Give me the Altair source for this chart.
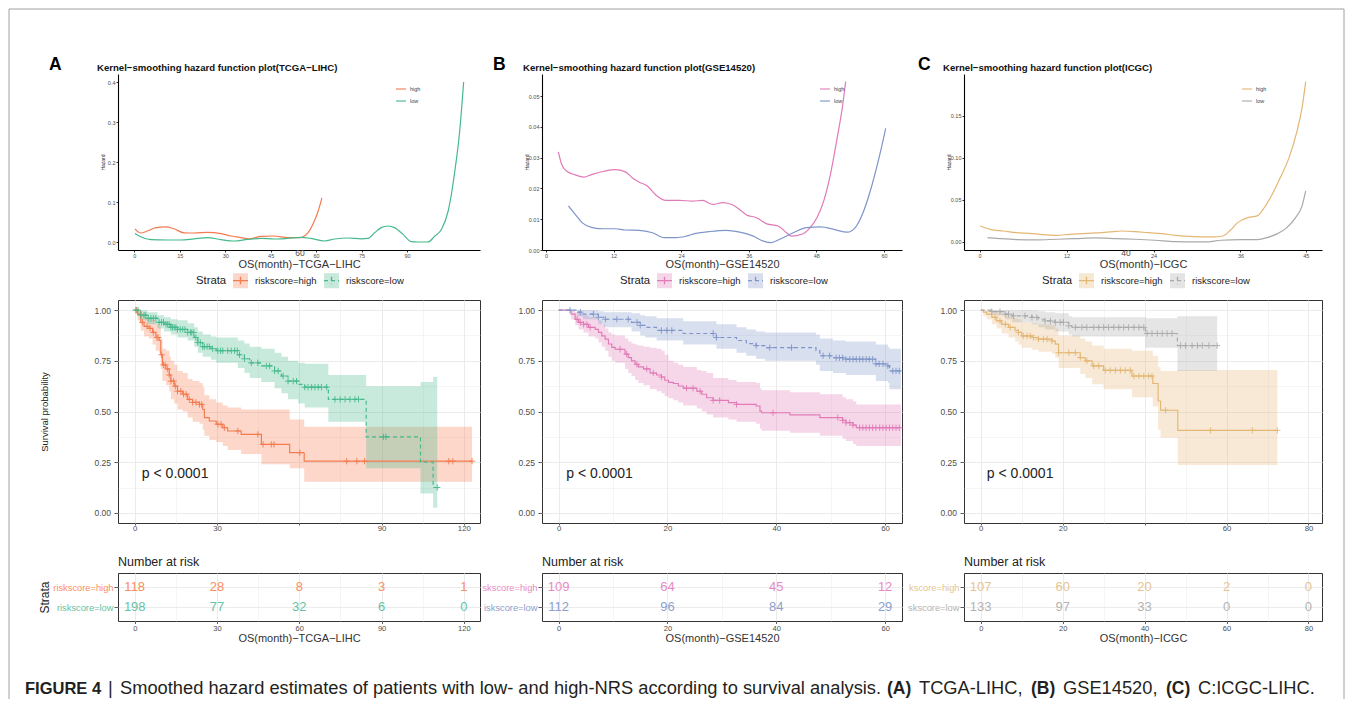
import altair as alt
import pandas as pd

FONT = "Liberation Sans"
M = "\u2212"

STRATA = ["riskscore=high", "riskscore=low"]
GROUPS = ["high", "low"]
LETTERS = ["A", "B", "C"]
HAZ_TITLES = [f"Kernel{M}smoothing hazard function plot(TCGA{M}LIHC)",
              f"Kernel{M}smoothing hazard function plot(GSE14520)",
              f"Kernel{M}smoothing hazard function plot(ICGC)"]
X_TITLES = [f"OS(month){M}TCGA{M}LIHC", f"OS(month){M}GSE14520", f"OS(month){M}ICGC"]

LINE_COLORS = [["#F47B4F", "#45B98C"], ["#E17AB6", "#7F95CA"], ["#E3B774", "#A9A9A9"]]
TEXT_COLORS = [["#FC8D62", "#66C2A5"], ["#E78AC3", "#8DA0CB"], ["#E5C494", "#B3B3B3"]]

# ---------------- hazard curves (kernel smoothed) ----------------
hazA_high_t = [0.2, 2.1, 4.3, 7.1, 10.4, 13.1, 16.4, 19.7, 24.2, 28.6, 31.9, 35.2, 37.9, 41.8, 46.2, 50.6, 55.0, 56.1, 57.3, 58.9, 60.5, 61.9]
hazA_high_h = [0.033, 0.0225, 0.0275, 0.036, 0.038, 0.033, 0.023, 0.0225, 0.024, 0.021, 0.015, 0.011, 0.008, 0.014, 0.015, 0.011, 0.011, 0.015, 0.023, 0.044, 0.073, 0.11]
hazA_low_t = [0.2, 2.1, 5.4, 10.9, 15.3, 19.7, 24.2, 28.6, 33.0, 37.4, 41.8, 46.2, 50.6, 55.0, 58.3, 62.8, 66.1, 70.5, 74.9, 77.1, 79.3, 81.5, 83.7, 85.9, 88.7, 91.4, 93.6, 96.9, 99.2, 101.4, 103.6, 105.8, 107.4, 108.7]
hazA_low_h = [0.0215, 0.013, 0.006, 0.005, 0.005, 0.008, 0.011, 0.006, 0.0025, 0.0065, 0.009, 0.0075, 0.009, 0.0115, 0.009, 0.0025, 0.0075, 0.01, 0.008, 0.009, 0.023, 0.036, 0.04, 0.036, 0.019, 0.001, 0.0, 0.0, 0.015, 0.032, 0.0775, 0.1775, 0.2775, 0.40]

hazB_high_t = [2.2, 2.8, 3.7, 5.2, 6.7, 8.2, 10.3, 12.3, 14.1, 15.3, 16.5, 18.0, 19.5, 21.3, 23.7, 26.0, 27.8, 29.6, 31.4, 33.2, 34.7, 35.6, 37.4, 39.2, 41.2, 42.7, 43.6, 45.4, 46.9, 48.1, 49.3, 50.5, 51.7, 52.6, 53.2]
hazB_high_h = [0.0319, 0.0278, 0.0256, 0.0244, 0.0237, 0.0246, 0.0256, 0.0261, 0.0254, 0.0235, 0.0221, 0.0208, 0.0179, 0.0161, 0.0161, 0.0159, 0.0161, 0.0148, 0.0154, 0.0146, 0.0127, 0.0114, 0.0105, 0.0085, 0.0078, 0.0056, 0.0045, 0.0051, 0.0073, 0.0105, 0.0159, 0.0246, 0.0365, 0.0462, 0.0547]
hazB_low_t = [4.0, 5.2, 6.4, 8.2, 10.3, 12.3, 14.1, 16.5, 18.9, 21.0, 23.1, 24.9, 26.6, 29.0, 32.0, 34.4, 36.8, 38.6, 40.0, 41.5, 43.9, 46.3, 48.7, 51.1, 53.5, 54.9, 56.4, 57.9, 59.4, 60.3]
hazB_low_h = [0.0143, 0.0116, 0.0089, 0.0073, 0.0069, 0.0069, 0.0065, 0.0064, 0.0056, 0.004, 0.004, 0.0045, 0.0054, 0.006, 0.0064, 0.0058, 0.0045, 0.0029, 0.0024, 0.0035, 0.0056, 0.0073, 0.0075, 0.0067, 0.0058, 0.0073, 0.0127, 0.0213, 0.0321, 0.0395]

hazC_high_t = [0.09, 1.46, 3.3, 5.1, 6.9, 8.7, 10.6, 12.4, 14.2, 16.0, 17.9, 19.7, 21.5, 23.3, 25.1, 27.0, 28.8, 30.6, 32.4, 33.6, 34.5, 35.6, 37.0, 38.3, 39.3, 40.4, 41.5, 42.7, 43.8, 44.5, 45.0]
hazC_high_h = [0.019, 0.015, 0.013, 0.011, 0.0103, 0.0087, 0.0079, 0.0091, 0.0099, 0.0107, 0.0119, 0.013, 0.0123, 0.011, 0.0099, 0.0079, 0.0067, 0.006, 0.006, 0.0071, 0.013, 0.023, 0.029, 0.031, 0.041, 0.057, 0.0766, 0.1004, 0.132, 0.16, 0.191]
hazC_low_t = [1.09, 2.8, 5.1, 7.8, 10.6, 13.3, 16.0, 18.8, 21.5, 24.2, 27.0, 29.7, 31.1, 33.3, 36.1, 38.3, 39.7, 41.1, 42.4, 43.6, 44.5, 45.0]
hazC_low_h = [0.0052, 0.004, 0.0028, 0.0024, 0.0032, 0.004, 0.0048, 0.004, 0.0032, 0.002, 0.0004, 0.0, 0.0, 0.002, 0.0028, 0.0028, 0.0052, 0.0099, 0.017, 0.029, 0.0429, 0.0607]

HAZ_XTICKS = [[0, 15, 30, 45, 60, 75, 90], [0, 12, 24, 36, 48, 60], [0, 12, 24, 36, 45]]
HAZ_YTICKS = [[0, 0.1, 0.2, 0.3, 0.4], [0, 0.01, 0.02, 0.03, 0.04, 0.05], [0, 0.05, 0.10, 0.15]]
HAZ_YFMT = [".1f", ".2f", ".2f"]
HAZ_STRAY_LABEL = [["60"], [], ["40"]]
HAZ_STRAY_AT = [[54.7], [], [20.2]]

# ---------------- Kaplan-Meier curves ----------------
kmA_high_t = [0, 1.0, 2.2, 3.4, 5.2, 6.5, 7.7, 8.9, 9.5, 10.1, 11.4, 12.6, 13.2, 14.4, 15.6, 17.5, 19.3, 21.1, 23.6, 24.8, 25.4, 27.2, 29.7, 32.1, 33.9, 38.8, 46.2, 56.5, 61.8]
kmA_high_s = [1.0, 0.98, 0.94, 0.92, 0.91, 0.89, 0.865, 0.85, 0.78, 0.73, 0.71, 0.68, 0.65, 0.625, 0.60, 0.585, 0.56, 0.545, 0.535, 0.51, 0.47, 0.453, 0.437, 0.42, 0.404, 0.387, 0.338, 0.297, 0.255]
kmA_high_lo = [1.0, 0.95, 0.90, 0.87, 0.86, 0.83, 0.80, 0.79, 0.71, 0.65, 0.63, 0.60, 0.56, 0.54, 0.51, 0.50, 0.47, 0.45, 0.44, 0.41, 0.38, 0.36, 0.35, 0.33, 0.31, 0.29, 0.24, 0.22, 0.153]
kmA_high_hi = [1.0, 1.0, 0.98, 0.965, 0.96, 0.95, 0.93, 0.92, 0.86, 0.81, 0.80, 0.77, 0.75, 0.73, 0.70, 0.69, 0.66, 0.65, 0.64, 0.62, 0.58, 0.56, 0.545, 0.53, 0.52, 0.51, 0.51, 0.46, 0.425]
kmA_high_end = 123.0
kmA_high_cens = [0.7, 2.0, 2.8, 4.5, 5.6, 6.8, 8.1, 8.5, 9.8, 10.5, 11.1, 12.0, 12.6, 13.2, 14.2, 14.8, 15.6, 16.8, 17.8, 18.8, 19.9, 21.1, 22.3, 23.6, 24.4, 30.3, 31.5, 32.7, 37.6, 44.9, 46.8, 49.8, 50.8, 60.2, 77.3, 81.0, 83.8, 114.5, 116.0, 123.0]

kmA_low_t = [0, 2.2, 4.6, 8.3, 10.7, 13.2, 15.6, 19.3, 21.7, 23.0, 24.8, 27.8, 29.7, 37.6, 40.0, 41.9, 46.2, 51.0, 53.5, 55.9, 59.6, 62.0, 70.6, 84.4, 104.2, 108.8]
kmA_low_s = [1.0, 0.975, 0.96, 0.94, 0.93, 0.915, 0.905, 0.89, 0.865, 0.84, 0.82, 0.81, 0.80, 0.78, 0.76, 0.74, 0.725, 0.70, 0.675, 0.65, 0.634, 0.62, 0.56, 0.375, 0.25, 0.125]
kmA_low_lo = [1.0, 0.95, 0.93, 0.91, 0.895, 0.88, 0.865, 0.85, 0.82, 0.79, 0.77, 0.755, 0.74, 0.715, 0.69, 0.665, 0.645, 0.615, 0.59, 0.56, 0.54, 0.52, 0.45, 0.22, 0.095, 0.025]
kmA_low_hi = [1.0, 1.0, 0.99, 0.975, 0.965, 0.955, 0.95, 0.935, 0.915, 0.895, 0.88, 0.87, 0.865, 0.85, 0.835, 0.82, 0.81, 0.79, 0.77, 0.75, 0.74, 0.735, 0.68, 0.625, 0.645, 0.67]
kmA_low_end = 110.3
kmA_low_cens = [0.4, 1.2, 2.2, 3.4, 4.0, 4.9, 5.9, 6.8, 7.7, 8.9, 9.8, 10.5, 11.4, 12.0, 12.6, 13.2, 13.8, 14.4, 15.0, 15.6, 16.6, 17.5, 18.3, 19.3, 20.3, 20.8, 21.5, 22.3, 23.0, 23.9, 24.8, 25.4, 26.4, 27.2, 28.4, 30.3, 31.3, 32.1, 33.9, 35.2, 36.4, 37.4, 38.2, 40.0, 42.5, 44.9, 48.0, 49.2, 51.0, 52.3, 54.1, 55.9, 57.8, 59.0, 62.0, 63.2, 64.5, 65.7, 66.9, 68.1, 70.0, 73.0, 74.9, 76.7, 78.5, 80.3, 81.6, 90.7, 91.6, 110.3]

kmB_high_t = [0, 2.3, 3.05, 3.67, 4.58, 5.5, 6.72, 7.33, 7.94, 8.55, 9.16, 9.77, 10.4, 12.2, 12.8, 13.4, 14.05, 14.66, 15.6, 16.8, 18.0, 18.9, 19.5, 20.2, 21.1, 22.0, 22.9, 25.4, 26.3, 27.2, 28.4, 31.2, 32.7, 36.3, 37.0, 37.3, 42.5, 48.0, 52.2, 52.8, 54.1, 54.7]
kmB_high_s = [1.0, 0.98, 0.955, 0.94, 0.93, 0.915, 0.905, 0.89, 0.873, 0.857, 0.833, 0.816, 0.807, 0.783, 0.766, 0.75, 0.733, 0.72, 0.71, 0.69, 0.68, 0.67, 0.654, 0.644, 0.638, 0.626, 0.615, 0.60, 0.585, 0.568, 0.555, 0.544, 0.535, 0.527, 0.502, 0.494, 0.483, 0.47, 0.456, 0.445, 0.433, 0.42]
kmB_high_lo = [1.0, 0.955, 0.925, 0.905, 0.89, 0.87, 0.86, 0.84, 0.82, 0.80, 0.77, 0.75, 0.74, 0.71, 0.69, 0.675, 0.655, 0.64, 0.63, 0.61, 0.60, 0.59, 0.575, 0.565, 0.555, 0.545, 0.53, 0.515, 0.50, 0.485, 0.47, 0.46, 0.45, 0.44, 0.415, 0.405, 0.395, 0.38, 0.365, 0.355, 0.34, 0.33]
kmB_high_hi = [1.0, 1.0, 0.99, 0.985, 0.975, 0.965, 0.96, 0.95, 0.93, 0.91, 0.89, 0.88, 0.875, 0.86, 0.845, 0.835, 0.83, 0.825, 0.82, 0.815, 0.81, 0.80, 0.78, 0.75, 0.74, 0.73, 0.72, 0.705, 0.70, 0.69, 0.665, 0.655, 0.645, 0.64, 0.615, 0.605, 0.595, 0.585, 0.57, 0.56, 0.55, 0.535]
kmB_high_end = 62.9
kmB_high_cens = [3.4, 4.0, 4.6, 5.2, 5.8, 11.3, 12.5, 14.4, 16.2, 17.4, 18.9, 23.5, 24.7, 26.0, 28.4, 29.6, 32.7, 39.4, 51.3, 52.2, 52.8, 53.5, 54.1, 55.3, 55.9, 56.5, 57.1, 57.7, 58.3, 59.0, 59.6, 60.2, 60.8, 61.4, 62.0, 62.6]

kmB_low_t = [0, 3.4, 4.5, 7.3, 8.3, 13.4, 15.0, 15.9, 18.0, 22.9, 29.0, 32.7, 34.5, 36.3, 37.9, 47.3, 48.0, 50.4, 52.8, 58.3, 60.5, 60.8]
kmB_low_s = [1.0, 0.99, 0.98, 0.965, 0.955, 0.94, 0.925, 0.915, 0.90, 0.885, 0.865, 0.85, 0.835, 0.825, 0.815, 0.80, 0.775, 0.765, 0.758, 0.735, 0.725, 0.70]
kmB_low_lo = [1.0, 0.97, 0.955, 0.93, 0.915, 0.895, 0.875, 0.865, 0.85, 0.83, 0.81, 0.79, 0.775, 0.76, 0.75, 0.73, 0.70, 0.69, 0.68, 0.65, 0.64, 0.61]
kmB_low_hi = [1.0, 1.0, 1.0, 0.995, 0.99, 0.985, 0.975, 0.97, 0.96, 0.945, 0.93, 0.915, 0.905, 0.895, 0.89, 0.88, 0.86, 0.85, 0.845, 0.83, 0.82, 0.81]
kmB_low_end = 62.9
kmB_low_cens = [2.1, 4.0, 6.4, 7.3, 8.6, 10.7, 12.8, 14.4, 15.0, 18.9, 19.9, 20.8, 28.4, 29.0, 36.3, 38.8, 42.8, 48.6, 49.8, 51.0, 51.6, 52.2, 52.8, 53.5, 54.1, 54.7, 55.3, 55.9, 56.5, 57.1, 57.7, 58.3, 58.9, 59.6, 60.5, 61.4, 62.0, 62.6]

kmC_high_t = [0, 0.65, 1.47, 2.7, 3.9, 5.1, 6.8, 8.4, 9.2, 10.0, 12.5, 14.1, 17.4, 18.2, 19.0, 24.3, 25.5, 27.2, 30.0, 36.9, 42.0, 43.3, 43.9, 48.1]
kmC_high_s = [1.0, 0.99, 0.98, 0.965, 0.947, 0.93, 0.915, 0.90, 0.89, 0.873, 0.865, 0.857, 0.848, 0.832, 0.79, 0.766, 0.75, 0.725, 0.703, 0.675, 0.638, 0.552, 0.506, 0.407]
kmC_high_lo = [1.0, 0.97, 0.955, 0.93, 0.91, 0.885, 0.865, 0.845, 0.83, 0.815, 0.805, 0.795, 0.785, 0.765, 0.715, 0.685, 0.665, 0.635, 0.61, 0.57, 0.525, 0.41, 0.37, 0.236]
kmC_high_hi = [1.0, 1.0, 1.0, 1.0, 0.99, 0.98, 0.97, 0.96, 0.955, 0.94, 0.935, 0.93, 0.925, 0.91, 0.875, 0.86, 0.845, 0.825, 0.81, 0.80, 0.775, 0.72, 0.70, 0.705]
kmC_high_end = 72.4
kmC_high_cens = [3.5, 4.7, 6.0, 7.2, 9.2, 10.4, 11.3, 12.1, 12.9, 14.1, 15.3, 16.2, 17.4, 19.0, 21.5, 23.1, 24.3, 25.9, 27.6, 28.8, 30.4, 31.6, 32.9, 34.1, 35.3, 36.5, 37.4, 38.6, 39.8, 41.0, 41.8, 45.1, 56.1, 66.3, 72.4]

kmC_low_t = [0, 2.7, 6.0, 7.6, 12.5, 14.1, 15.7, 18.2, 21.5, 22.3, 40.2, 48.0]
kmC_low_s = [1.0, 0.993, 0.98, 0.972, 0.964, 0.955, 0.947, 0.94, 0.923, 0.915, 0.885, 0.825]
kmC_low_lo = [1.0, 0.975, 0.955, 0.94, 0.93, 0.915, 0.905, 0.895, 0.88, 0.87, 0.815, 0.70]
kmC_low_hi = [1.0, 1.0, 1.0, 1.0, 1.0, 0.995, 0.99, 0.985, 0.97, 0.965, 0.96, 0.97]
kmC_low_end = 57.7
kmC_low_cens = [2.7, 4.7, 6.0, 6.8, 8.0, 10.8, 12.5, 13.7, 15.7, 17.0, 18.2, 19.4, 20.2, 21.5, 23.1, 24.7, 25.9, 27.6, 28.8, 30.0, 31.2, 32.5, 33.7, 34.9, 36.1, 37.4, 38.6, 39.8, 40.6, 41.8, 43.1, 44.3, 45.5, 46.7, 48.8, 50.0, 51.6, 52.9, 54.1, 55.7, 57.7]

PVAL_TEXT = "p < 0.0001"
PVAL_AT = [2.6, 1.4, 1.5]
PVAL_Y = 0.19

# ---------------- number at risk ----------------
riskA_times = [0, 30, 60, 90, 120]
riskA_high = [118, 28, 8, 3, 1]
riskA_low = [198, 77, 32, 6, 0]
riskB_times = [0, 20, 40, 60]
riskB_high = [109, 64, 45, 12]
riskB_low = [112, 96, 84, 29]
riskC_times = [0, 20, 40, 60, 80]
riskC_high = [107, 60, 20, 2, 0]
riskC_low = [133, 97, 33, 0, 0]

# visible (cropped) strata labels of the risk tables
RISK_LABELS = [["riskscore=high", "riskscore=low"], ["skscore=high", "iskscore=low"], ["kscore=high", "skscore=low"]]

CAPTION_BOLD = ["FIGURE 4", "(A)", "(B)", "(C)"]
CAPTION_REG = ["|", "Smoothed hazard estimates of patients with low- and high-NRS according to survival analysis.",
               "TCGA-LIHC,", "GSE14520,", "C:ICGC-LIHC."]

# ---------------- layout (pixels) ----------------
WIDTHS = [362, 360, 358]
H_HAZ, H_KM, H_TAB = 176, 223, 48
HAZ_XDOM = [[-5.4, 114.1], [-0.7, 63.2], [-2.16, 47.25]]
HAZ_YDOM = [[-0.02, 0.42], [0.0, 0.0572], [-0.0096, 0.2]]
KM_XDOM = [[-6.1, 125.9], [-3.05, 63.1], [-4.08, 83.3]]
KM_XVALS = [list(range(0, 121, 15)), list(range(0, 61, 10)), list(range(0, 81, 10))]
KM_MAJOR = [30, 20, 20]
KM_HIDE = [60, None, 40]
LETTER_X = [-69, -49, -46]
TITLE_X = [-21, -19, -21]


def one_row():
    return alt.Data(values=[{"k": 1}])


def label_text(txt, x, y, size, weight="normal", color="#111111", align="left"):
    return alt.Chart(one_row()).mark_text(
        text=txt, align=align, baseline="middle", fontSize=size, fontWeight=weight,
        color=color, font=FONT
    ).encode(x=alt.value(x), y=alt.value(y))


def step_value(ts, ss, c):
    idx = 0
    for j, t in enumerate(ts):
        if t <= c:
            idx = j
    return ss[idx]


HAZ = [
    (hazA_high_t, hazA_high_h, hazA_low_t, hazA_low_h),
    (hazB_high_t, hazB_high_h, hazB_low_t, hazB_low_h),
    (hazC_high_t, hazC_high_h, hazC_low_t, hazC_low_h),
]
KM = [
    [(kmA_high_t, kmA_high_s, kmA_high_lo, kmA_high_hi, kmA_high_end, kmA_high_cens),
     (kmA_low_t, kmA_low_s, kmA_low_lo, kmA_low_hi, kmA_low_end, kmA_low_cens)],
    [(kmB_high_t, kmB_high_s, kmB_high_lo, kmB_high_hi, kmB_high_end, kmB_high_cens),
     (kmB_low_t, kmB_low_s, kmB_low_lo, kmB_low_hi, kmB_low_end, kmB_low_cens)],
    [(kmC_high_t, kmC_high_s, kmC_high_lo, kmC_high_hi, kmC_high_end, kmC_high_cens),
     (kmC_low_t, kmC_low_s, kmC_low_lo, kmC_low_hi, kmC_low_end, kmC_low_cens)],
]
RISK = [
    (riskA_times, riskA_high, riskA_low),
    (riskB_times, riskB_high, riskB_low),
    (riskC_times, riskC_high, riskC_low),
]


def hazard_panel(i):
    ht, hh, lt, lh = HAZ[i]
    df = pd.DataFrame({
        "t": list(ht) + list(lt),
        "h": list(hh) + list(lh),
        "group": ["high"] * len(ht) + ["low"] * len(lt),
    })
    xs = alt.Scale(domain=HAZ_XDOM[i], nice=False, zero=False)
    ys = alt.Scale(domain=HAZ_YDOM[i], nice=False, zero=False)
    xaxis = alt.Axis(values=HAZ_XTICKS[i], title=X_TITLES[i], grid=False,
                     domainColor="#000000", domainWidth=1.1, tickColor="#000000", tickSize=2,
                     tickWidth=0.8, labelPadding=1, labelFontSize=5.5, labelColor="#4D4D4D",
                     labelFlush=False, labelOverlap=False, titleFontSize=11,
                     titleFontWeight="normal", titleColor="#333333", titleY=14.5,
                     titleBaseline="middle")
    yaxis = alt.Axis(values=HAZ_YTICKS[i], format=HAZ_YFMT[i], title="Hazard", grid=False,
                     domainColor="#000000", domainWidth=1.1, tickColor="#000000", tickSize=2,
                     tickWidth=0.8, labelPadding=1, labelFontSize=5.5, labelColor="#4D4D4D",
                     labelFlush=False, labelOverlap=False, titleFontSize=5,
                     titleFontWeight="normal", titleColor="#333333", titleX=-16,
                     titleBaseline="middle")
    lines = alt.Chart(df).mark_line(interpolate="monotone", strokeWidth=1.2).encode(
        x=alt.X("t:Q", scale=xs, axis=xaxis),
        y=alt.Y("h:Q", scale=ys, axis=yaxis),
        stroke=alt.Stroke("group:N", scale=alt.Scale(domain=GROUPS, range=LINE_COLORS[i]),
                          legend=alt.Legend(title=None, orient="none", legendX=277, legendY=9,
                                            symbolType="stroke", symbolSize=100,
                                            symbolStrokeWidth=1.1, labelFontSize=5.5,
                                            labelColor="#444444", labelOffset=3, rowPadding=2,
                                            padding=0)),
    )
    layers = [lines,
              label_text(HAZ_TITLES[i], TITLE_X[i], -6.5, 9.6, weight="bold", color="#111111"),
              label_text(LETTERS[i], LETTER_X[i], -9, 17.5, weight="bold", color="#000000")]
    if HAZ_STRAY_LABEL[i]:
        sdf = pd.DataFrame({"t": HAZ_STRAY_AT[i], "lab": HAZ_STRAY_LABEL[i]})
        layers.append(alt.Chart(sdf).mark_text(fontSize=8.5, color="#4D4D4D", baseline="middle").encode(
            x=alt.X("t:Q", scale=xs, axis=xaxis), y=alt.value(179), text="lab:N"))
    return alt.layer(*layers).properties(width=WIDTHS[i], height=H_HAZ)


def strata_legend(kind):
    common = dict(title="Strata", orient="none", legendX=78, legendY=-28, direction="horizontal",
                  titleOrient="left", titleFontSize=11.3, titleFontWeight="normal", titlePadding=5,
                  titleAnchor="middle", titleBaseline="middle", labelFontSize=9.5, labelOffset=6,
                  columnPadding=4, symbolSize=225, symbolStrokeWidth=1.3, padding=0)
    if kind == "band":
        return alt.Legend(symbolType="square", symbolOpacity=0.3, symbolStrokeColor="transparent",
                          titleColor="#222222", labelColor="#222222", **common)
    return alt.Legend(symbolType="M-1,0H1M0,-0.5V0.5", symbolFillColor="transparent",
                      symbolOpacity=1, titleColor="transparent", labelColor="transparent", **common)


def km_panel(i):
    rows = []
    crow = []
    for g, (t, s, lo, hi, end, cens) in enumerate(KM[i]):
        lab = STRATA[g]
        for j in range(len(t)):
            rows.append({"t": t[j], "s": s[j], "lo": lo[j], "hi": hi[j], "strata": lab, "band": lab})
        rows.append({"t": end, "s": s[-1], "lo": lo[-1], "hi": hi[-1], "strata": lab, "band": lab})
        for c in cens:
            crow.append({"t": c, "s": step_value(t, s, c), "strata": lab})
    df = pd.DataFrame(rows)
    cdf = pd.DataFrame(crow)
    major = KM_MAJOR[i]
    hide = KM_HIDE[i]
    lab_expr = f"datum.value % {major} == 0" + (f" && datum.value != {hide}" if hide is not None else "")
    xs = alt.Scale(domain=KM_XDOM[i], nice=False, zero=False)
    ys = alt.Scale(domain=[-0.05, 1.05], nice=False, zero=False)
    xaxis = alt.Axis(values=KM_XVALS[i], title=None, labelExpr=f"{lab_expr} ? datum.label : ''",
                     grid=True, gridColor="#EBEBEB",
                     gridWidth={"condition": {"test": f"datum.value % {major} == 0", "value": 1.0}, "value": 0.5},
                     tickOpacity={"condition": {"test": f"datum.value % {major} != 0", "value": 0}, "value": 1},
                     tickSize=2, tickColor="#333333", tickWidth=0.8, labelPadding=-0.5,
                     labelFontSize=7.8, labelColor="#4D4D4D", domain=False, labelFlush=False,
                     labelOverlap=False)
    yaxis = alt.Axis(values=[k / 8 for k in range(9)],
                     labelExpr="(datum.value * 8) % 2 == 0 ? format(datum.value, '.2f') : ''",
                     title="Survival probability" if i == 0 else None,
                     titleX=-74, titleBaseline="middle", titleFontSize=9.5, titleFontWeight="normal",
                     titleColor="#222222",
                     grid=True, gridColor="#EBEBEB",
                     gridWidth={"condition": {"test": "(datum.value * 8) % 2 == 0", "value": 1.0}, "value": 0.5},
                     tickOpacity={"condition": {"test": "(datum.value * 8) % 2 != 0", "value": 0}, "value": 1},
                     tickSize=4, tickColor="#333333", tickWidth=0.8, labelPadding=3.5,
                     labelFontSize=8.5, labelColor="#4D4D4D", domain=False, labelFlush=False,
                     labelOverlap=False)
    # fill scale keeps a data-driven domain so that its legend stays separate from the line legend
    band = alt.Chart(df).mark_area(interpolate="step-after", opacity=0.3).encode(
        x=alt.X("t:Q", scale=xs, axis=xaxis),
        y=alt.Y("lo:Q", scale=ys, axis=yaxis),
        y2="hi:Q",
        fill=alt.Fill("band:N", scale=alt.Scale(range=LINE_COLORS[i]), legend=strata_legend("band")),
    )
    line_leg = strata_legend("line")
    line = alt.Chart(df).mark_line(interpolate="step-after", strokeWidth=1.15).encode(
        x=alt.X("t:Q", scale=xs, axis=xaxis),
        y=alt.Y("s:Q", scale=ys, axis=yaxis),
        stroke=alt.Stroke("strata:N", scale=alt.Scale(domain=STRATA, range=LINE_COLORS[i]), legend=line_leg),
        strokeDash=alt.StrokeDash("strata:N", scale=alt.Scale(domain=STRATA, range=[[1, 0], [4, 3]]),
                                  legend=line_leg),
    )
    pts = alt.Chart(cdf).mark_point(shape="M-1,0H1M0,-1V1", size=40, filled=False, strokeWidth=0.9,
                                    opacity=1).encode(
        x=alt.X("t:Q", scale=xs, axis=xaxis),
        y=alt.Y("s:Q", scale=ys, axis=yaxis),
        stroke=alt.Stroke("strata:N", scale=alt.Scale(domain=STRATA, range=LINE_COLORS[i]), legend=None),
    )
    pdf = pd.DataFrame({"t": [PVAL_AT[i]], "s": [PVAL_Y], "lab": [PVAL_TEXT]})
    ptxt = alt.Chart(pdf).mark_text(align="left", baseline="middle", fontSize=14, color="#222222").encode(
        x=alt.X("t:Q", scale=xs, axis=xaxis), y=alt.Y("s:Q", scale=ys, axis=yaxis), text="lab:N")
    return alt.layer(band, line, pts, ptxt).properties(
        width=WIDTHS[i], height=H_KM, view=alt.ViewBackground(stroke="#333333", strokeWidth=1))


def table_panel(i):
    times, nh, nl = RISK[i]
    df = pd.DataFrame({
        "t": list(times) + list(times),
        "strata": [STRATA[0]] * len(times) + [STRATA[1]] * len(times),
        "n": list(nh) + list(nl),
    })
    major = KM_MAJOR[i]
    xs = alt.Scale(domain=KM_XDOM[i], nice=False, zero=False)
    xaxis = alt.Axis(values=KM_XVALS[i], title=X_TITLES[i],
                     labelExpr=f"datum.value % {major} == 0 ? datum.label : ''",
                     grid=True, gridColor="#EBEBEB",
                     gridWidth={"condition": {"test": f"datum.value % {major} == 0", "value": 1.0}, "value": 0.5},
                     tickOpacity={"condition": {"test": f"datum.value % {major} != 0", "value": 0}, "value": 1},
                     tickSize=2.5, tickColor="#333333", tickWidth=0.8, labelPadding=0.5,
                     labelFontSize=7.5, labelColor="#4D4D4D", domain=False, labelFlush=False,
                     labelOverlap=False, titleFontSize=11, titleFontWeight="normal",
                     titleColor="#333333", titleY=17, titleBaseline="middle")
    hl, ll = RISK_LABELS[i]
    yaxis = alt.Axis(title="Strata" if i == 0 else None, titleX=-74, titleBaseline="middle",
                     titleFontSize=12, titleFontWeight="normal", titleColor="#222222",
                     labelExpr=f"datum.value == '{STRATA[0]}' ? '{hl}' : '{ll}'",
                     labelColor={"condition": {"test": f"datum.value == '{STRATA[0]}'",
                                               "value": TEXT_COLORS[i][0]}, "value": TEXT_COLORS[i][1]},
                     labelFontSize=9.3, labelPadding=1, tickSize=4, tickColor="#333333", tickWidth=0.8,
                     grid=True, gridColor="#EBEBEB", gridWidth=1, domain=False)
    txt = alt.Chart(df).mark_text(fontSize=13, baseline="middle").encode(
        x=alt.X("t:Q", scale=xs, axis=xaxis),
        y=alt.Y("strata:N", scale=alt.Scale(type="point", domain=STRATA, padding=0.7), axis=yaxis),
        color=alt.Color("strata:N", scale=alt.Scale(domain=STRATA, range=TEXT_COLORS[i]), legend=None),
        text="n:Q",
    )
    layers = [txt, label_text("Number at risk", 0, -11, 12.5, color="#222222")]
    if i == 0:
        # outer figure frame and caption (pixel offsets relative to this panel)
        frame = alt.Chart(one_row())
        layers += [
            frame.mark_rule(color="#A0A0A0", strokeWidth=1).encode(
                x=alt.value(-109), x2=alt.value(1226), y=alt.value(-564)),
            frame.mark_rule(color="#A0A0A0", strokeWidth=1).encode(
                x=alt.value(-109), y=alt.value(-564), y2=alt.value(126)),
            frame.mark_rule(color="#A0A0A0", strokeWidth=1).encode(
                x=alt.value(1226), y=alt.value(-564), y2=alt.value(126)),
        ]
        cy = 116
        reg = 18.3
        bold = 17.5
        layers += [
            label_text(CAPTION_BOLD[0], -93, cy, 16.5, weight="bold", color="#231F20"),
            label_text(CAPTION_REG[0], -10, cy, reg, color="#231F20"),
            label_text(CAPTION_REG[1], 2, cy, reg, color="#231F20"),
            label_text(CAPTION_BOLD[1], 769, cy, bold, weight="bold", color="#231F20"),
            label_text(CAPTION_REG[2], 801, cy, reg, color="#231F20"),
            label_text(CAPTION_BOLD[2], 913, cy, bold, weight="bold", color="#231F20"),
            label_text(CAPTION_REG[3], 945, cy, reg, color="#231F20"),
            label_text(CAPTION_BOLD[3], 1048, cy, bold, weight="bold", color="#231F20"),
            label_text(CAPTION_REG[4], 1080, cy, reg, color="#231F20"),
        ]
    return alt.layer(*layers).properties(
        width=WIDTHS[i], height=H_TAB, view=alt.ViewBackground(stroke="#333333", strokeWidth=1))


charts = [hazard_panel(i) for i in range(3)] + [km_panel(i) for i in range(3)] + [table_panel(i) for i in range(3)]

chart = alt.concat(*charts, columns=3, spacing={"row": 50, "column": 62}, bounds="flush").resolve_scale(
    color="independent", fill="independent", stroke="independent", strokeDash="independent"
).resolve_legend(
    color="independent", fill="independent", stroke="independent", strokeDash="independent"
).properties(
    padding={"left": 0, "top": 0, "right": 0, "bottom": 0}
).configure(font=FONT).configure_view(stroke=None)

chart.save("out.html", embed_options={"renderer": "svg", "actions": False})
